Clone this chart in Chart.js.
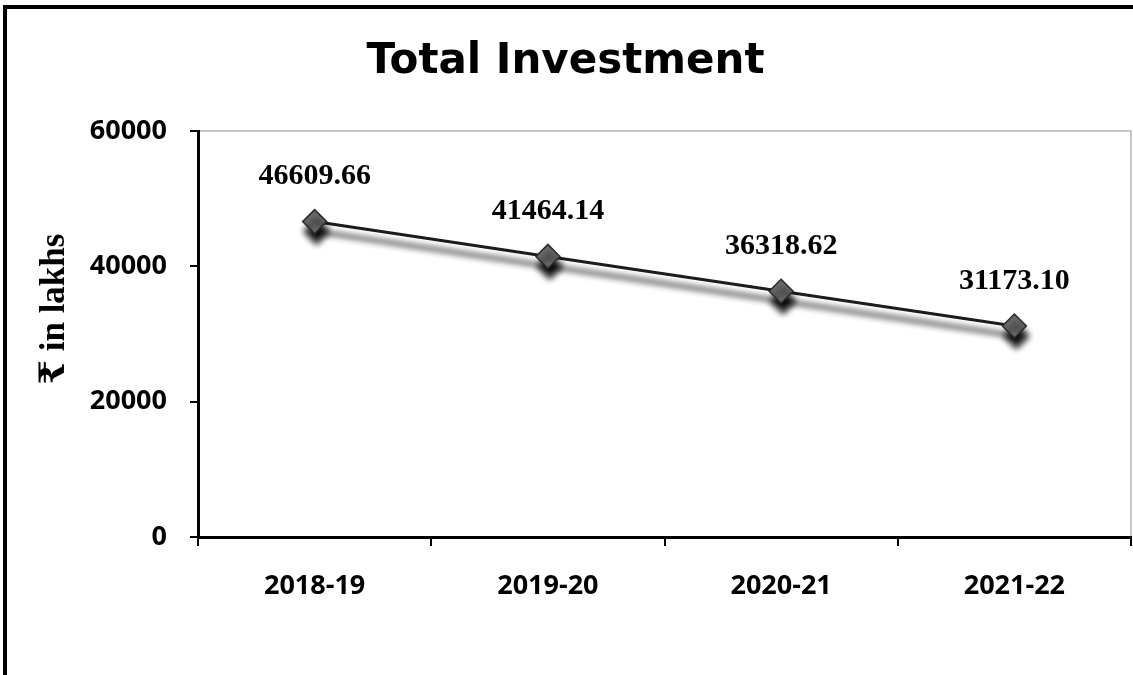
<!DOCTYPE html>
<html>
<head>
<meta charset="utf-8">
<script src="https://cdn.jsdelivr.net/npm/chart.js@4.4.1/dist/chart.umd.min.js"></script>
<style>
  html, body { margin: 0; padding: 0; background: #fff; overflow: hidden; }
  #frame {
    position: absolute; left: 3px; top: 5px; width: 1300px; height: 900px;
    border-left: 4px solid #000; border-top: 4px solid #000;
  }
  #wrap { position: absolute; left: 0; top: 0; width: 1133px; height: 675px; }
</style>
</head>
<body>
<div id="frame"></div>
<div id="wrap"><canvas id="chart"></canvas></div>
<script>
const years = ['2018-19', '2019-20', '2020-21', '2021-22'];
const investment = [46609.66, 41464.14, 36318.62, 31173.10];
const yMin = 0;
const yMax = 60000;
const yStep = 20000;

// light frame around the plot area (left/bottom get covered by the axes)
const plotFrame = {
    id: 'plotFrame',
    beforeDraw(chart) {
        const a = chart.chartArea;
        const ctx = chart.ctx;
        ctx.save();
        ctx.strokeStyle = '#b4b4b4';
        ctx.lineWidth = 1.5;
        ctx.strokeRect(a.left, a.top, a.right - a.left, a.bottom - a.top);
        ctx.restore();
    },
};

// soft drop shadow under the line and markers
const dropShadow = {
    id: 'dropShadow',
    beforeDatasetDraw(chart) {
        const ctx = chart.ctx;
        ctx.save();
        ctx.shadowColor = 'rgba(0,0,0,0.95)';
        ctx.shadowBlur = 6;
        ctx.shadowOffsetX = 2;
        ctx.shadowOffsetY = 10;
    },
    afterDatasetDraw(chart) {
        chart.ctx.restore();
    },
};

// value labels above each point
const valueLabels = {
    id: 'valueLabels',
    afterDatasetsDraw(chart) {
        const ctx = chart.ctx;
        const meta = chart.getDatasetMeta(0);
        ctx.save();
        ctx.font = 'bold 30px "Liberation Serif", "Times New Roman", serif';
        ctx.fillStyle = '#000';
        ctx.textAlign = 'center';
        ctx.textBaseline = 'middle';
        meta.data.forEach((pt, i) => {
            ctx.fillText(investment[i].toFixed(2), pt.x, pt.y - 45);
        });
        ctx.restore();
    },
};

// rotated y axis caption, sits a little above the axis middle
const yCaption = {
    id: 'yCaption',
    afterDraw(chart) {
        const a = chart.chartArea;
        const ctx = chart.ctx;
        ctx.save();
        ctx.translate(55, (a.top + a.bottom) / 2 - 25);
        ctx.rotate(-Math.PI / 2);
        ctx.font = 'bold 35px "Liberation Serif", "DejaVu Serif", serif';
        ctx.fillStyle = '#000';
        ctx.textAlign = 'center';
        ctx.textBaseline = 'middle';
        ctx.fillText('₹ in lakhs', 0, 0);
        ctx.restore();
    },
};

const tickFont = { family: '"Open Sans", sans-serif', size: 27, weight: 'bold' };

new Chart(document.getElementById('chart'), {
    type: 'line',
    data: {
        labels: years,
        datasets: [
            {
                data: investment,
                borderColor: '#1c1c1c',
                borderWidth: 3,
                tension: 0,
                pointStyle: 'rectRot',
                pointRadius: 12,
                pointBackgroundColor: '#686868',
                pointBorderColor: '#2a2a2a',
                pointBorderWidth: 1.5,
            },
        ],
    },
    options: {
        responsive: true,
        maintainAspectRatio: false,
        animation: false,
        layout: { autoPadding: false, padding: { left: 0, right: 2, top: 0, bottom: 0 } },
        plugins: {
            legend: { display: false },
            tooltip: { enabled: false },
            title: {
                display: true,
                text: 'Total Investment',
                color: '#000',
                font: { family: '"DejaVu Sans", sans-serif', size: 42, weight: 'bold' },
                padding: { top: 37, bottom: 43.6 },
            },
        },
        scales: {
            x: {
                offset: true,
                grid: { offset: true, drawOnChartArea: false, tickLength: 9, color: '#000', lineWidth: 2 },
                border: { color: '#000', width: 3 },
                ticks: { color: '#000', font: tickFont, padding: 24, maxRotation: 0 },
                afterFit: (scale) => {
                    scale.height = 138;
                    scale.paddingLeft = 0;
                    scale.paddingRight = 0;
                },
            },
            y: {
                min: yMin,
                max: yMax,
                grid: { drawOnChartArea: false, tickLength: 8, color: '#000', lineWidth: 2 },
                border: { color: '#000', width: 3 },
                ticks: {
                    stepSize: yStep,
                    color: '#000',
                    font: tickFont,
                    padding: 23,
                    callback: (v) => String(v),
                },
                afterFit: (scale) => { scale.width = 198; },
            },
        },
    },
    plugins: [plotFrame, dropShadow, valueLabels, yCaption],
});
</script>
</body>
</html>
